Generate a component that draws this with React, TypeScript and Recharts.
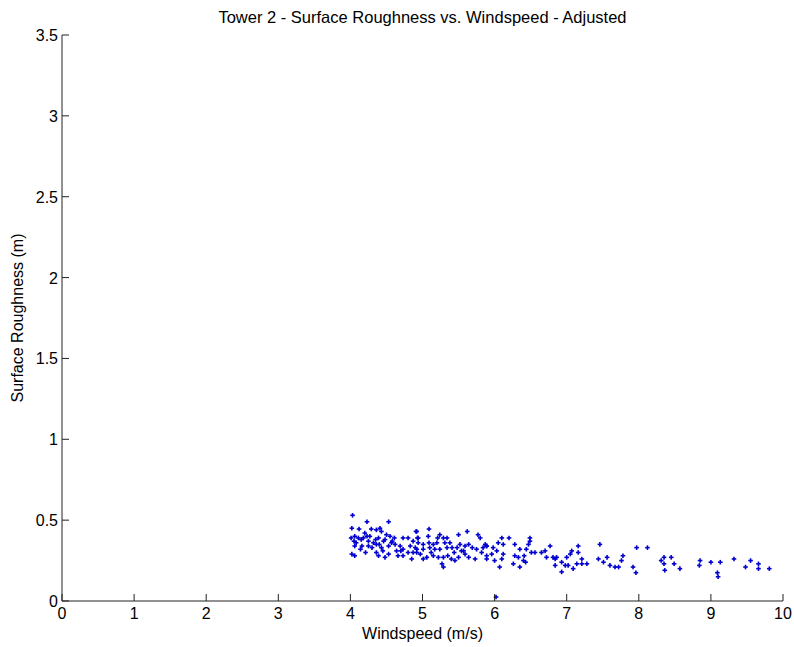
import React from 'react';
import { ScatterChart, Scatter, XAxis, YAxis } from 'recharts';

const TITLE = 'Tower 2 - Surface Roughness vs. Windspeed - Adjusted';
const X_LABEL = 'Windspeed (m/s)';
const Y_LABEL = 'Surface Roughness (m)';
const X_TICKS = [0, 1, 2, 3, 4, 5, 6, 7, 8, 9, 10];
const Y_TICKS = [0, 0.5, 1, 1.5, 2, 2.5, 3, 3.5];

const windspeed: number[] = [
  4.03, 4.23, 4.53, 4.02, 4.12, 4.29, 4.36, 4.41, 4.43, 4.50, 4.55, 4.91, 4.01, 4.06, 4.11, 4.15, 4.18, 4.23, 4.25, 4.35,
  4.39, 4.46, 4.48, 4.61, 4.73, 4.80, 4.87, 4.93, 4.06, 4.16, 4.25, 4.30, 4.36, 4.43, 4.53, 4.62, 4.69, 4.73, 4.83, 4.90,
  4.02, 4.06, 4.36, 4.39, 4.48, 4.53, 4.66, 4.73, 4.80, 4.85, 4.87, 4.92,
  4.92, 5.09, 5.24, 5.50, 5.62, 5.77, 5.80, 4.94, 5.08, 5.21, 5.29, 5.34, 4.94, 5.01, 5.09, 5.15, 5.20, 5.38, 5.52, 5.59,
  5.64, 5.87, 4.92, 5.01, 5.10, 5.17, 5.24, 5.34, 5.41, 5.48, 5.54, 5.75, 5.84, 5.89, 5.01, 5.15, 5.22, 5.29, 5.35, 5.40,
  5.45, 5.50, 5.59, 5.64, 5.73, 5.89, 5.27, 5.29, 5.06,
  6.10, 6.20, 6.49, 6.49, 6.05, 6.12, 6.28, 6.47, 6.77, 5.89, 5.98, 6.03, 6.35, 6.44, 6.51, 6.56, 6.65, 6.70, 5.89, 5.96,
  6.12, 6.28, 6.33, 6.41, 6.72, 6.81, 6.00, 6.10, 6.26, 6.40, 6.43, 6.35, 6.84, 6.07, 6.84,
  7.16, 7.16, 7.46, 7.07, 7.05, 7.00, 6.86, 7.21, 6.93, 6.98, 7.02, 7.14, 7.21, 7.28, 7.09, 6.93, 7.44, 7.56, 7.51, 7.60,
  7.67, 7.72, 7.78, 7.76,
  7.97, 8.12, 7.92, 7.96, 8.31, 8.35, 8.45, 8.35, 8.49, 8.36, 8.57, 8.85, 8.84,
  9.00, 9.13, 9.32, 9.55, 9.09, 9.10, 9.48, 9.66, 9.66, 9.81,
  6.02,
  4.08, 4.20, 4.32, 4.45, 4.58, 4.70, 4.14, 4.27, 4.40, 4.64, 4.97, 5.12, 5.31, 5.44, 5.57, 5.69, 5.82, 4.05, 4.21, 4.57,
];

const roughness: number[] = [
  0.53, 0.49, 0.49, 0.45, 0.445, 0.445, 0.44, 0.45, 0.43, 0.41, 0.40, 0.43, 0.39, 0.40, 0.39, 0.38, 0.39, 0.40, 0.37, 0.38,
  0.39, 0.37, 0.38, 0.39, 0.39, 0.39, 0.37, 0.39, 0.34, 0.34, 0.34, 0.33, 0.35, 0.33, 0.34, 0.35, 0.34, 0.32, 0.34, 0.33,
  0.29, 0.28, 0.30, 0.28, 0.27, 0.29, 0.28, 0.28, 0.30, 0.26, 0.30, 0.30,
  0.43, 0.445, 0.41, 0.41, 0.43, 0.41, 0.39, 0.39, 0.40, 0.39, 0.39, 0.39, 0.36, 0.35, 0.36, 0.35, 0.36, 0.36, 0.35, 0.34,
  0.35, 0.35, 0.32, 0.32, 0.33, 0.32, 0.32, 0.33, 0.33, 0.33, 0.31, 0.32, 0.33, 0.34, 0.26, 0.28, 0.27, 0.27, 0.28, 0.26,
  0.25, 0.27, 0.29, 0.27, 0.26, 0.26, 0.23, 0.21, 0.27,
  0.39, 0.39, 0.39, 0.37, 0.36, 0.35, 0.35, 0.35, 0.34, 0.34, 0.33, 0.31, 0.32, 0.32, 0.30, 0.30, 0.30, 0.31, 0.28, 0.29,
  0.29, 0.28, 0.27, 0.28, 0.27, 0.27, 0.25, 0.26, 0.23, 0.25, 0.24, 0.21, 0.22, 0.21, 0.26,
  0.34, 0.30, 0.35, 0.31, 0.29, 0.27, 0.27, 0.26, 0.24, 0.22, 0.22, 0.23, 0.23, 0.23, 0.20, 0.18, 0.26, 0.27, 0.24, 0.22,
  0.21, 0.21, 0.28, 0.25,
  0.33, 0.33, 0.21, 0.175, 0.25, 0.27, 0.27, 0.23, 0.23, 0.19, 0.20, 0.25, 0.22,
  0.24, 0.24, 0.26, 0.25, 0.175, 0.15, 0.21, 0.23, 0.20, 0.20,
  0.025,
  0.36, 0.42, 0.36, 0.31, 0.37, 0.31, 0.32, 0.40, 0.35, 0.31, 0.29, 0.30, 0.36, 0.30, 0.31, 0.33, 0.30, 0.37, 0.30, 0.36,
];

const data = windspeed.map((x, i) => ({ x, y: roughness[i] }));

const FONT = '"Liberation Sans", Arial, Helvetica, sans-serif';

const XTick = (props: any) => {
  const { x, y, payload } = props;
  return (
    <g>
      <line x1={x} y1={y} x2={x} y2={y - 7} stroke="#222" strokeWidth={1} />
      <text x={x} y={y + 18} textAnchor="middle" fontSize={16} fontFamily={FONT} fill="#000">
        {payload.value}
      </text>
    </g>
  );
};

const YTick = (props: any) => {
  const { x, y, payload } = props;
  return (
    <g>
      <line x1={x} y1={y} x2={x + 7} y2={y} stroke="#222" strokeWidth={1} />
      <text x={x - 4} y={y + 6} textAnchor="end" fontSize={16} fontFamily={FONT} fill="#000">
        {payload.value}
      </text>
    </g>
  );
};

const PlusMarker = (props: any) => {
  const { cx, cy } = props;
  if (cx == null || cy == null) return null;
  return (
    <g>
      <line x1={cx - 2.3} y1={cy} x2={cx + 2.3} y2={cy} stroke="#0000d0" strokeWidth={1.6} />
      <line x1={cx} y1={cy - 2.3} x2={cx} y2={cy + 2.3} stroke="#0000d0" strokeWidth={1.6} />
    </g>
  );
};

const XLabel = (props: any) => {
  const { viewBox } = props;
  return (
    <text x={viewBox.x + viewBox.width / 2} y={viewBox.y + 38} textAnchor="middle" fontSize={16} fontFamily={FONT} fill="#000">
      {X_LABEL}
    </text>
  );
};

const YLabel = (props: any) => {
  const { viewBox } = props;
  const cx = viewBox.x + 23;
  const cy = viewBox.y + viewBox.height / 2;
  return (
    <text x={cx} y={cy} transform={`rotate(-90 ${cx} ${cy})`} textAnchor="middle" fontSize={16} fontFamily={FONT} fill="#000">
      {Y_LABEL}
    </text>
  );
};

export default function App() {
  return (
    <div style={{ position: 'absolute', left: 0, top: 0, width: 794, height: 647, background: '#fff' }}>
      <div
        style={{
          position: 'absolute', left: 62, width: 721, top: 7, textAlign: 'center',
          fontFamily: FONT, fontSize: 16.5, color: '#000', lineHeight: '20px',
        }}
      >
        {TITLE}
      </div>
      <ScatterChart width={794} height={647} margin={{ top: 35, right: 11, bottom: 0, left: 0 }}>
        <XAxis
          type="number"
          dataKey="x"
          domain={[0, 10]}
          ticks={X_TICKS}
          allowDataOverflow
          height={46}
          tickSize={0}
          tickMargin={0}
          tick={<XTick />}
          axisLine={{ stroke: '#222', strokeWidth: 1 }}
          interval={0}
          label={<XLabel />}
        />
        <YAxis
          type="number"
          dataKey="y"
          domain={[0, 3.5]}
          ticks={Y_TICKS}
          allowDataOverflow
          width={62}
          tickSize={0}
          tickMargin={0}
          tick={<YTick />}
          axisLine={{ stroke: '#222', strokeWidth: 1 }}
          interval={0}
          label={<YLabel />}
        />
        <Scatter data={data} shape={<PlusMarker />} isAnimationActive={false} />
      </ScatterChart>
    </div>
  );
}
